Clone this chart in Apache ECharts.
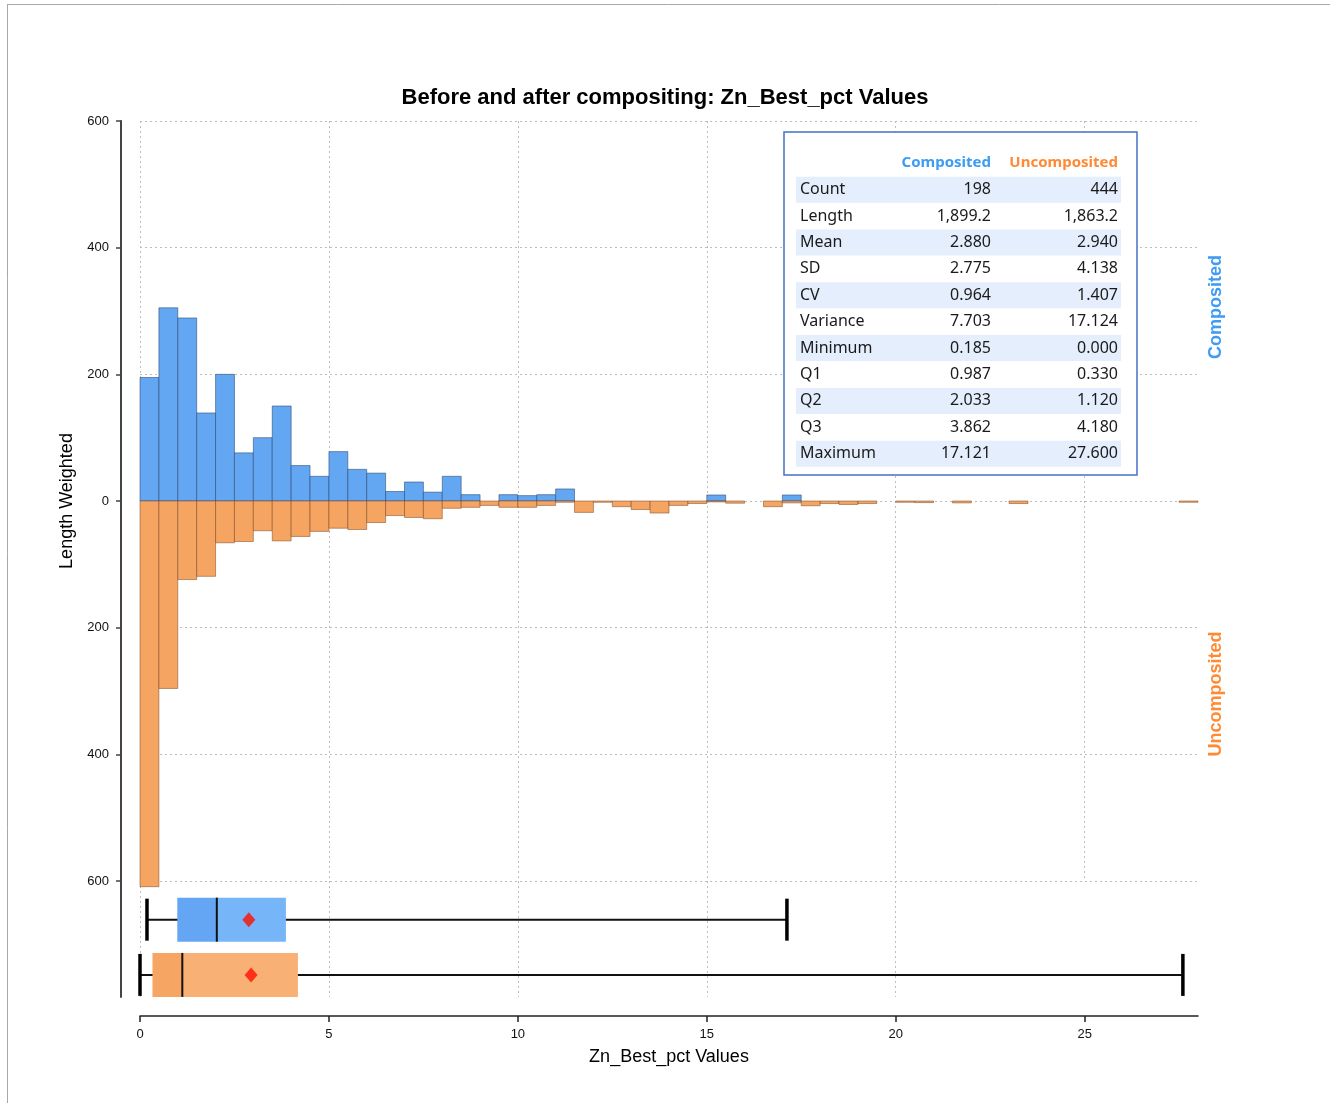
<!DOCTYPE html>
<html><head><meta charset="utf-8">
<script src="https://cdn.jsdelivr.net/npm/echarts@6/dist/echarts.min.js"></script>
<style>html,body{margin:0;padding:0;background:#fff}#chart{width:1330px;height:1103px}</style>
</head><body><div id="chart"></div>
<script>
// ---- data ----
const binWidth = 0.5;
const compositedLengths = [195,305,289,139,200,76,100,150,56,39,78,50,44,15,30,14,39,10,0,10,8.5,10,19,0,0,0,0,0,0,0,9.5,0,0,0,9.5,0,0,0,0,0,0,0,0,0,0,0,0,0,0,0,0,0,0,0,0,0];
const uncompositedLengths = [609,296,124,119,66,64,47,63,56,48,43,45,34,23,26,28,11.5,10,7,10,10,7,2,18,2,9,13.5,19,7,4,1.5,3.5,0,9,3,7.5,4,5.5,4,0,2,2.5,0,3,0,0,4,0,0,0,0,0,0,0,0,2];
const statNames = ['Count','Length','Mean','SD','CV','Variance','Minimum','Q1','Q2','Q3','Maximum'];
const compositedStats = [198, 1899.2, 2.880, 2.775, 0.964, 7.703, 0.185, 0.987, 2.033, 3.862, 17.121];
const uncompositedStats = [444, 1863.2, 2.940, 4.138, 1.407, 17.124, 0.000, 0.330, 1.120, 4.180, 27.600];
const seriesNames = ['Composited','Uncomposited'];
const xTickValues = [0,5,10,15,20,25];

// ---- styles ----
const BLUE = '#63A6F2', ORANGE = '#F5A462';
const BOX_COLORS = [['#64A6F4','#76B5F7'], ['#F6A563','#F8B075']];
const FONT = '"Liberation Sans", Arial, sans-serif';
const TFONT = '"Noto Sans", "Open Sans", sans-serif';

function fmtStat(i, v) {
  if (i === 0) return String(v);
  if (i === 1) { const s = v.toFixed(1); const [a,b] = s.split('.'); return a.replace(/\B(?=(\d{3})+(?!\d))/g, ',') + '.' + b; }
  return v.toFixed(3);
}
function stat(arr, name) { return arr[statNames.indexOf(name)]; }

const histComp = compositedLengths.map((v,i)=>[i*binWidth,(i+1)*binWidth,v]).filter(d=>d[2]>0);
const histUncomp = uncompositedLengths.map((v,i)=>[i*binWidth,(i+1)*binWidth,-v]).filter(d=>d[2]<0);

function histRender(fill, stroke) {
  return function(params, api) {
    const a = api.coord([api.value(0), api.value(2)]);
    const b = api.coord([api.value(1), 0]);
    return {type:'rect', shape:{x:a[0], y:Math.min(a[1],b[1]), width:b[0]-a[0], height:Math.abs(b[1]-a[1])},
      style:{fill:fill, stroke:stroke, lineWidth:1}};
  };
}

const boxRows = [1, 0]; // composited on top row, uncomposited below
const boxData = [compositedStats, uncompositedStats].map((s,k)=>[boxRows[k], stat(s,'Minimum'), stat(s,'Q1'), stat(s,'Q2'), stat(s,'Q3'), stat(s,'Maximum')]);
const meanData = [compositedStats, uncompositedStats].map((s,k)=>[stat(s,'Mean'), boxRows[k]]);

function boxRender(params, api) {
  const row = api.value(0);
  const yc = api.coord([0,row])[1];
  const h = 22;
  const x = [1,2,3,4,5].map(d=>api.coord([api.value(d), row])[0]);
  const col = BOX_COLORS[params.dataIndex];
  return {type:'group', children:[
    {type:'line', shape:{x1:x[0], y1:yc, x2:x[4], y2:yc}, style:{stroke:'#111', lineWidth:2}},
    {type:'rect', shape:{x:x[1], y:yc-h, width:x[2]-x[1], height:2*h}, style:{fill:col[0]}},
    {type:'rect', shape:{x:x[2], y:yc-h, width:x[3]-x[2], height:2*h}, style:{fill:col[1]}},
    {type:'line', shape:{x1:x[2], y1:yc-h, x2:x[2], y2:yc+h}, style:{stroke:'#111', lineWidth:2}},
    {type:'line', shape:{x1:x[0], y1:yc-21, x2:x[0], y2:yc+21}, style:{stroke:'#000', lineWidth:3.5}},
    {type:'line', shape:{x1:x[4], y1:yc-21, x2:x[4], y2:yc+21}, style:{stroke:'#000', lineWidth:3.5}}
  ]};
}

// ---- stats table graphic ----
const T = {x:784, y:132, w:353, h:343, rowX:796, rowW:325, row0:189.7, pitch:26.4, labelX:800, c1:991, c2:1118, headY:163};
const tableEls = [{type:'rect', shape:{x:T.x, y:T.y, width:T.w, height:T.h}, style:{fill:'#fff', stroke:'#4472C4', lineWidth:1.5}, z:100}];
statNames.forEach((n,i)=>{
  const cy = T.row0 + i*T.pitch;
  if (i % 2 === 0) tableEls.push({type:'rect', shape:{x:T.rowX, y:cy-13, width:T.rowW, height:26}, style:{fill:'#E4EEFC'}, z:101});
  tableEls.push({type:'text', x:T.labelX, y:cy, style:{text:n, font:'16px '+TFONT, fill:'#1a1a1a', textAlign:'left', textVerticalAlign:'middle'}, z:102});
  tableEls.push({type:'text', x:T.c1, y:cy, style:{text:fmtStat(i, compositedStats[i]), font:'16px '+TFONT, fill:'#1a1a1a', textAlign:'right', textVerticalAlign:'middle'}, z:102});
  tableEls.push({type:'text', x:T.c2, y:cy, style:{text:fmtStat(i, uncompositedStats[i]), font:'16px '+TFONT, fill:'#1a1a1a', textAlign:'right', textVerticalAlign:'middle'}, z:102});
});
tableEls.push({type:'text', x:T.c1, y:T.headY, style:{text:seriesNames[0], font:'bold 15px '+TFONT, fill:'#3D9BF5', textAlign:'right', textVerticalAlign:'middle'}, z:102});
tableEls.push({type:'text', x:T.c2, y:T.headY, style:{text:seriesNames[1], font:'bold 15px '+TFONT, fill:'#FF8A33', textAlign:'right', textVerticalAlign:'middle'}, z:102});

const gridLine = {show:true, lineStyle:{color:'#BDBDBD', type:[2,3], width:1}};

const option = {
  animation:false,
  backgroundColor:'#fff',
  title:{text:'Before and after compositing: Zn_Best_pct Values', left:'center', top:82,
    textStyle:{fontFamily:FONT, fontSize:22, fontWeight:'bold', color:'#000'}},
  grid:[
    {left:140, right:132, top:121, height:760},
    {left:140, right:132, top:881, height:116}
  ],
  xAxis:[
    {type:'value', gridIndex:0, min:0, max:28, interval:5, axisLine:{show:false, onZero:false}, axisTick:{show:false}, axisLabel:{show:false},
      splitLine:Object.assign({showMaxLine:false}, gridLine)},
    {type:'value', gridIndex:1, min:0, max:28, interval:5, offset:19,
      axisLine:{show:true, onZero:false, lineStyle:{color:'#222', width:1.5}},
      axisTick:{show:true, inside:false, length:6, customValues:xTickValues, lineStyle:{color:'#222', width:1.5}},
      axisLabel:{show:true, customValues:xTickValues, margin:12, fontFamily:FONT, fontSize:13, color:'#111'},
      splitLine:Object.assign({showMaxLine:false}, gridLine),
      name:'Zn_Best_pct Values', nameLocation:'middle', nameGap:32,
      nameTextStyle:{fontFamily:FONT, fontSize:18, color:'#000'}}
  ],
  yAxis:[
    {type:'value', gridIndex:0, min:-600, max:600, interval:200, offset:19,
      axisLine:{show:true, onZero:false, lineStyle:{color:'#444', width:2}},
      axisTick:{show:true, inside:false, length:5, lineStyle:{color:'#444', width:1.5}},
      axisLabel:{margin:12, fontFamily:FONT, fontSize:13, color:'#111', formatter:v=>String(Math.abs(v))},
      splitLine:gridLine,
      name:'Length Weighted', nameLocation:'middle', nameGap:43,
      nameTextStyle:{fontFamily:FONT, fontSize:18, color:'#000'}},
    {type:'value', gridIndex:1, min:-0.4, max:1.7, offset:19,
      axisLine:{show:true, onZero:false, lineStyle:{color:'#444', width:2}},
      axisTick:{show:false}, axisLabel:{show:false}, splitLine:{show:false}}
  ],
  series:[
    {type:'custom', name:seriesNames[0], xAxisIndex:0, yAxisIndex:0, data:histComp, encode:{x:[0,1], y:2},
      renderItem:histRender(BLUE, 'rgba(40,70,110,0.55)'), z:3},
    {type:'custom', name:seriesNames[1], xAxisIndex:0, yAxisIndex:0, data:histUncomp, encode:{x:[0,1], y:2},
      renderItem:histRender(ORANGE, 'rgba(120,70,30,0.5)'), z:3},
    {type:'custom', name:'box', xAxisIndex:1, yAxisIndex:1, data:boxData, encode:{x:[1,2,3,4,5], y:0},
      renderItem:boxRender, z:3},
    {type:'scatter', name:'mean', xAxisIndex:1, yAxisIndex:1, data:meanData, symbol:'diamond', symbolSize:[13,15],
      itemStyle:{color:'#FF1000'}, z:5}
  ],
  graphic:[
    {type:'line', shape:{x1:7, y1:4.5, x2:1330, y2:4.5}, style:{stroke:'#A8A8A8', lineWidth:1}, z:100},
    {type:'line', shape:{x1:7.5, y1:4, x2:7.5, y2:1103}, style:{stroke:'#A8A8A8', lineWidth:1}, z:100},
    {type:'text', x:1216, y:307, rotation:Math.PI/2, style:{text:seriesNames[0], font:'bold 18px '+FONT, fill:'#3D9BF5', textAlign:'center', textVerticalAlign:'middle'}, z:100},
    {type:'text', x:1216, y:694, rotation:Math.PI/2, style:{text:seriesNames[1], font:'bold 18px '+FONT, fill:'#FF8A33', textAlign:'center', textVerticalAlign:'middle'}, z:100}
  ].concat(tableEls)
};
const chart = echarts.init(document.getElementById('chart'), null, {renderer:'canvas'});
chart.setOption(option);
</script></body></html>
